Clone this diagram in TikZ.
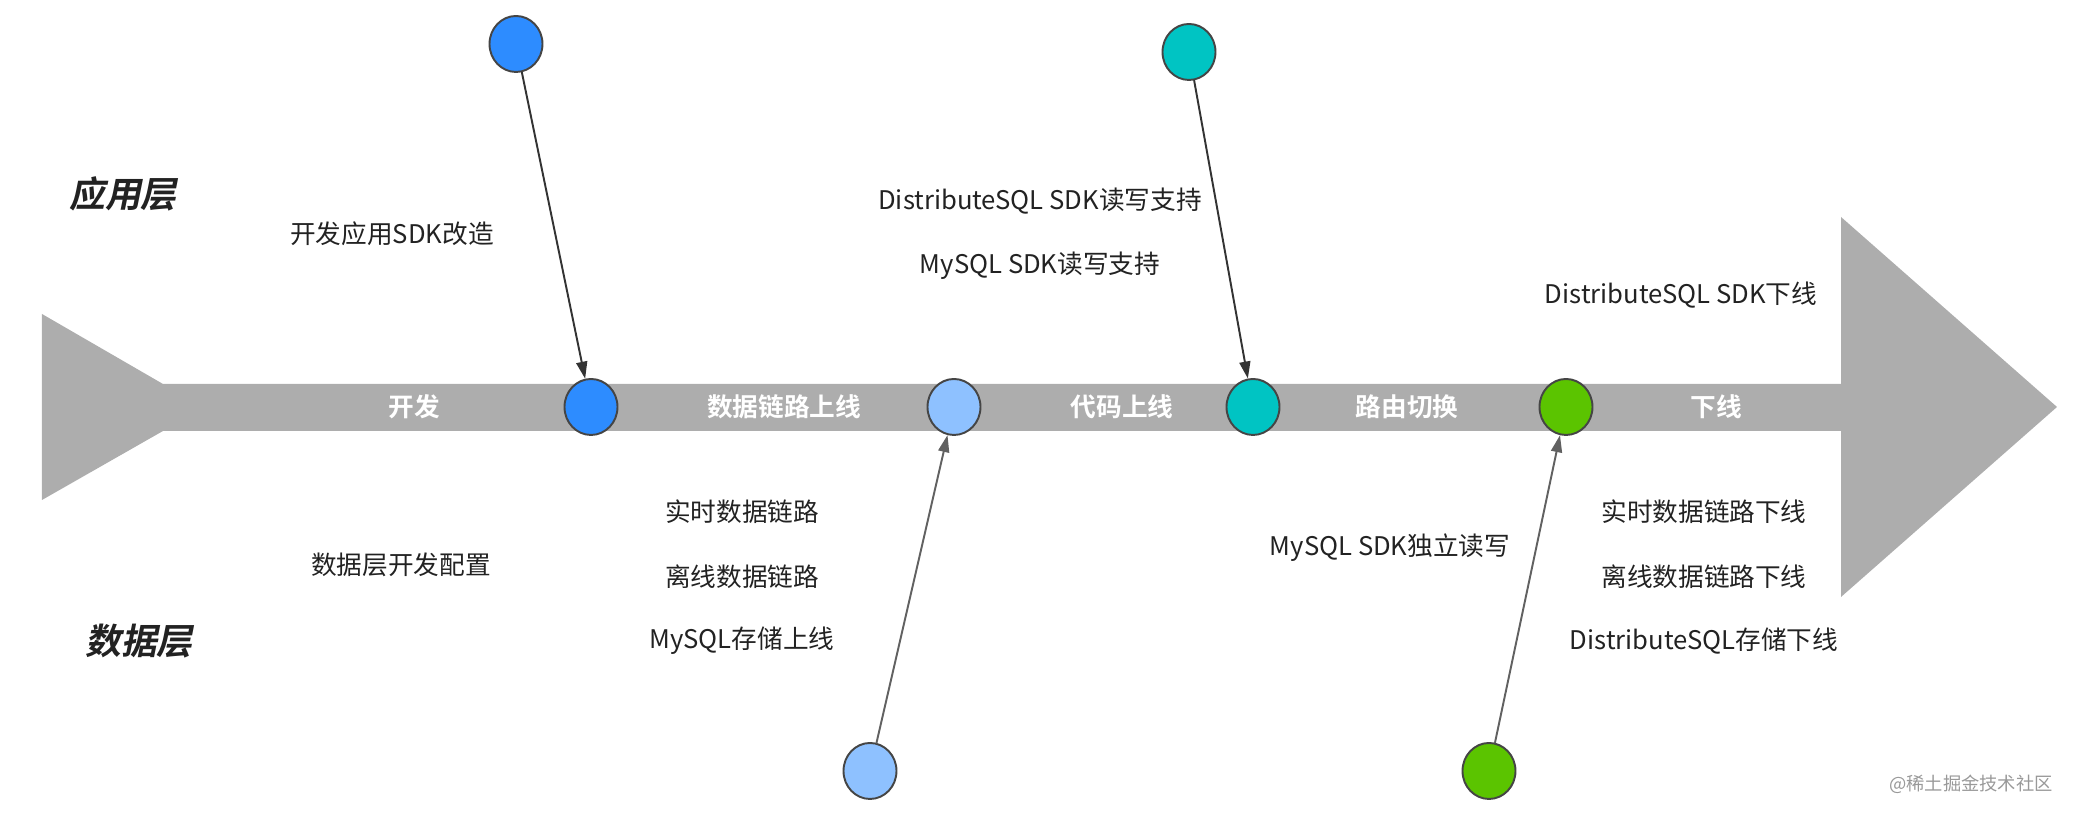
\documentclass[tikz,border=0pt]{standalone}
\usepackage{fontspec}
\setmainfont{Noto Sans CJK SC}
\newfontfamily\layerfont{Noto Sans CJK SC Bold}[FakeSlant=0.2]
\newfontfamily\bandfont{Noto Sans CJK SC Bold}
\usetikzlibrary{arrows.meta,shapes.geometric}
\definecolor{spinegray}{HTML}{ADADAD}
\definecolor{textdark}{HTML}{222222}
\definecolor{devblue}{HTML}{2D8CFF}
\definecolor{linkblue}{HTML}{8EC1FF}
\definecolor{codeteal}{HTML}{00C4C3}
\definecolor{offgreen}{HTML}{5BC400}
\begin{document}
\begin{tikzpicture}[line cap=round, line join=round,
    dot/.style={ellipse, draw=black!73, line width=0.55pt, minimum width=0.53cm,
      minimum height=0.56cm, inner sep=0pt},
    pin/.style={line width=0.55pt, -{Triangle[length=0.17cm,width=0.11cm]}},
    note/.style={font=\fontsize{7.3}{9}\selectfont, text=textdark, inner sep=1pt},
    stage/.style={font=\fontsize{7.3}{9}\bandfont, text=white, inner sep=1pt},
    layer/.style={font=\fontsize{10.2}{12}\layerfont, text=textdark, inner sep=1pt}]
  \useasboundingbox (0,0) rectangle (20.74,8.18);
  % 主干箭头
  \fill[spinegray] (0.42,5.04) -- (1.63,4.34) -- (18.41,4.34) -- (18.41,6.01)
    -- (20.57,4.11) -- (18.41,2.21) -- (18.41,3.87) -- (1.63,3.87)
    -- (0.42,3.18) -- cycle;
  % 层
  \node[layer] (app) at (1.23,6.24) {应用层};
  \node[layer] (data) at (1.39,1.77) {数据层};
  % 阶段
  \node[stage] (s1) at (4.14,4.11) {开发};
  \node[stage] (s2) at (7.84,4.11) {数据链路上线};
  \node[stage] (s3) at (11.22,4.11) {代码上线};
  \node[stage] (s4) at (14.07,4.11) {路由切换};
  \node[stage] (s5) at (17.16,4.11) {下线};
  % 主干上的点
  \node[dot, fill=devblue] (d1) at (5.91,4.11) {};
  \node[dot, fill=linkblue] (d2) at (9.54,4.11) {};
  \node[dot, fill=codeteal] (d3) at (12.53,4.11) {};
  \node[dot, fill=offgreen] (d4) at (15.66,4.11) {};
  % 上下的点
  \node[dot, fill=devblue] (t1) at (5.16,7.74) {};
  \node[dot, fill=codeteal] (t3) at (11.89,7.66) {};
  \node[dot, fill=linkblue] (b2) at (8.70,0.47) {};
  \node[dot, fill=offgreen] (b4) at (14.89,0.47) {};
  \draw[pin, black!80] (t1) -- (d1);
  \draw[pin, black!80] (t3) -- (d3);
  \draw[pin, black!62] (b2) -- (d2);
  \draw[pin, black!62] (b4) -- (d4);
  % 应用层事项
  \node[note] (a1) at (3.92,5.84) {开发应用SDK改造};
  \node[note] (a2) at (10.40,6.17) {DistributeSQL SDK读写支持};
  \node[note] (a3) at (10.40,5.52) {MySQL SDK读写支持};
  \node[note] (a4) at (16.81,5.23) {DistributeSQL SDK下线};
  % 数据层事项
  \node[note] (e1) at (4.01,2.53) {数据层开发配置};
  \node[note] (e2) at (7.42,3.06) {实时数据链路};
  \node[note] (e3) at (7.42,2.41) {离线数据链路};
  \node[note] (e4) at (7.42,1.77) {MySQL存储上线};
  \node[note] (e5) at (13.90,2.70) {MySQL SDK独立读写};
  \node[note] (e6) at (17.04,3.06) {实时数据链路下线};
  \node[note] (e7) at (17.04,2.41) {离线数据链路下线};
  \node[note] (e8) at (17.04,1.77) {DistributeSQL存储下线};
  % 水印
  \node[font=\fontsize{5.2}{6}\selectfont, text=black!40] (wm) at (19.71,0.34) {@稀土掘金技术社区};
\end{tikzpicture}
\end{document}
